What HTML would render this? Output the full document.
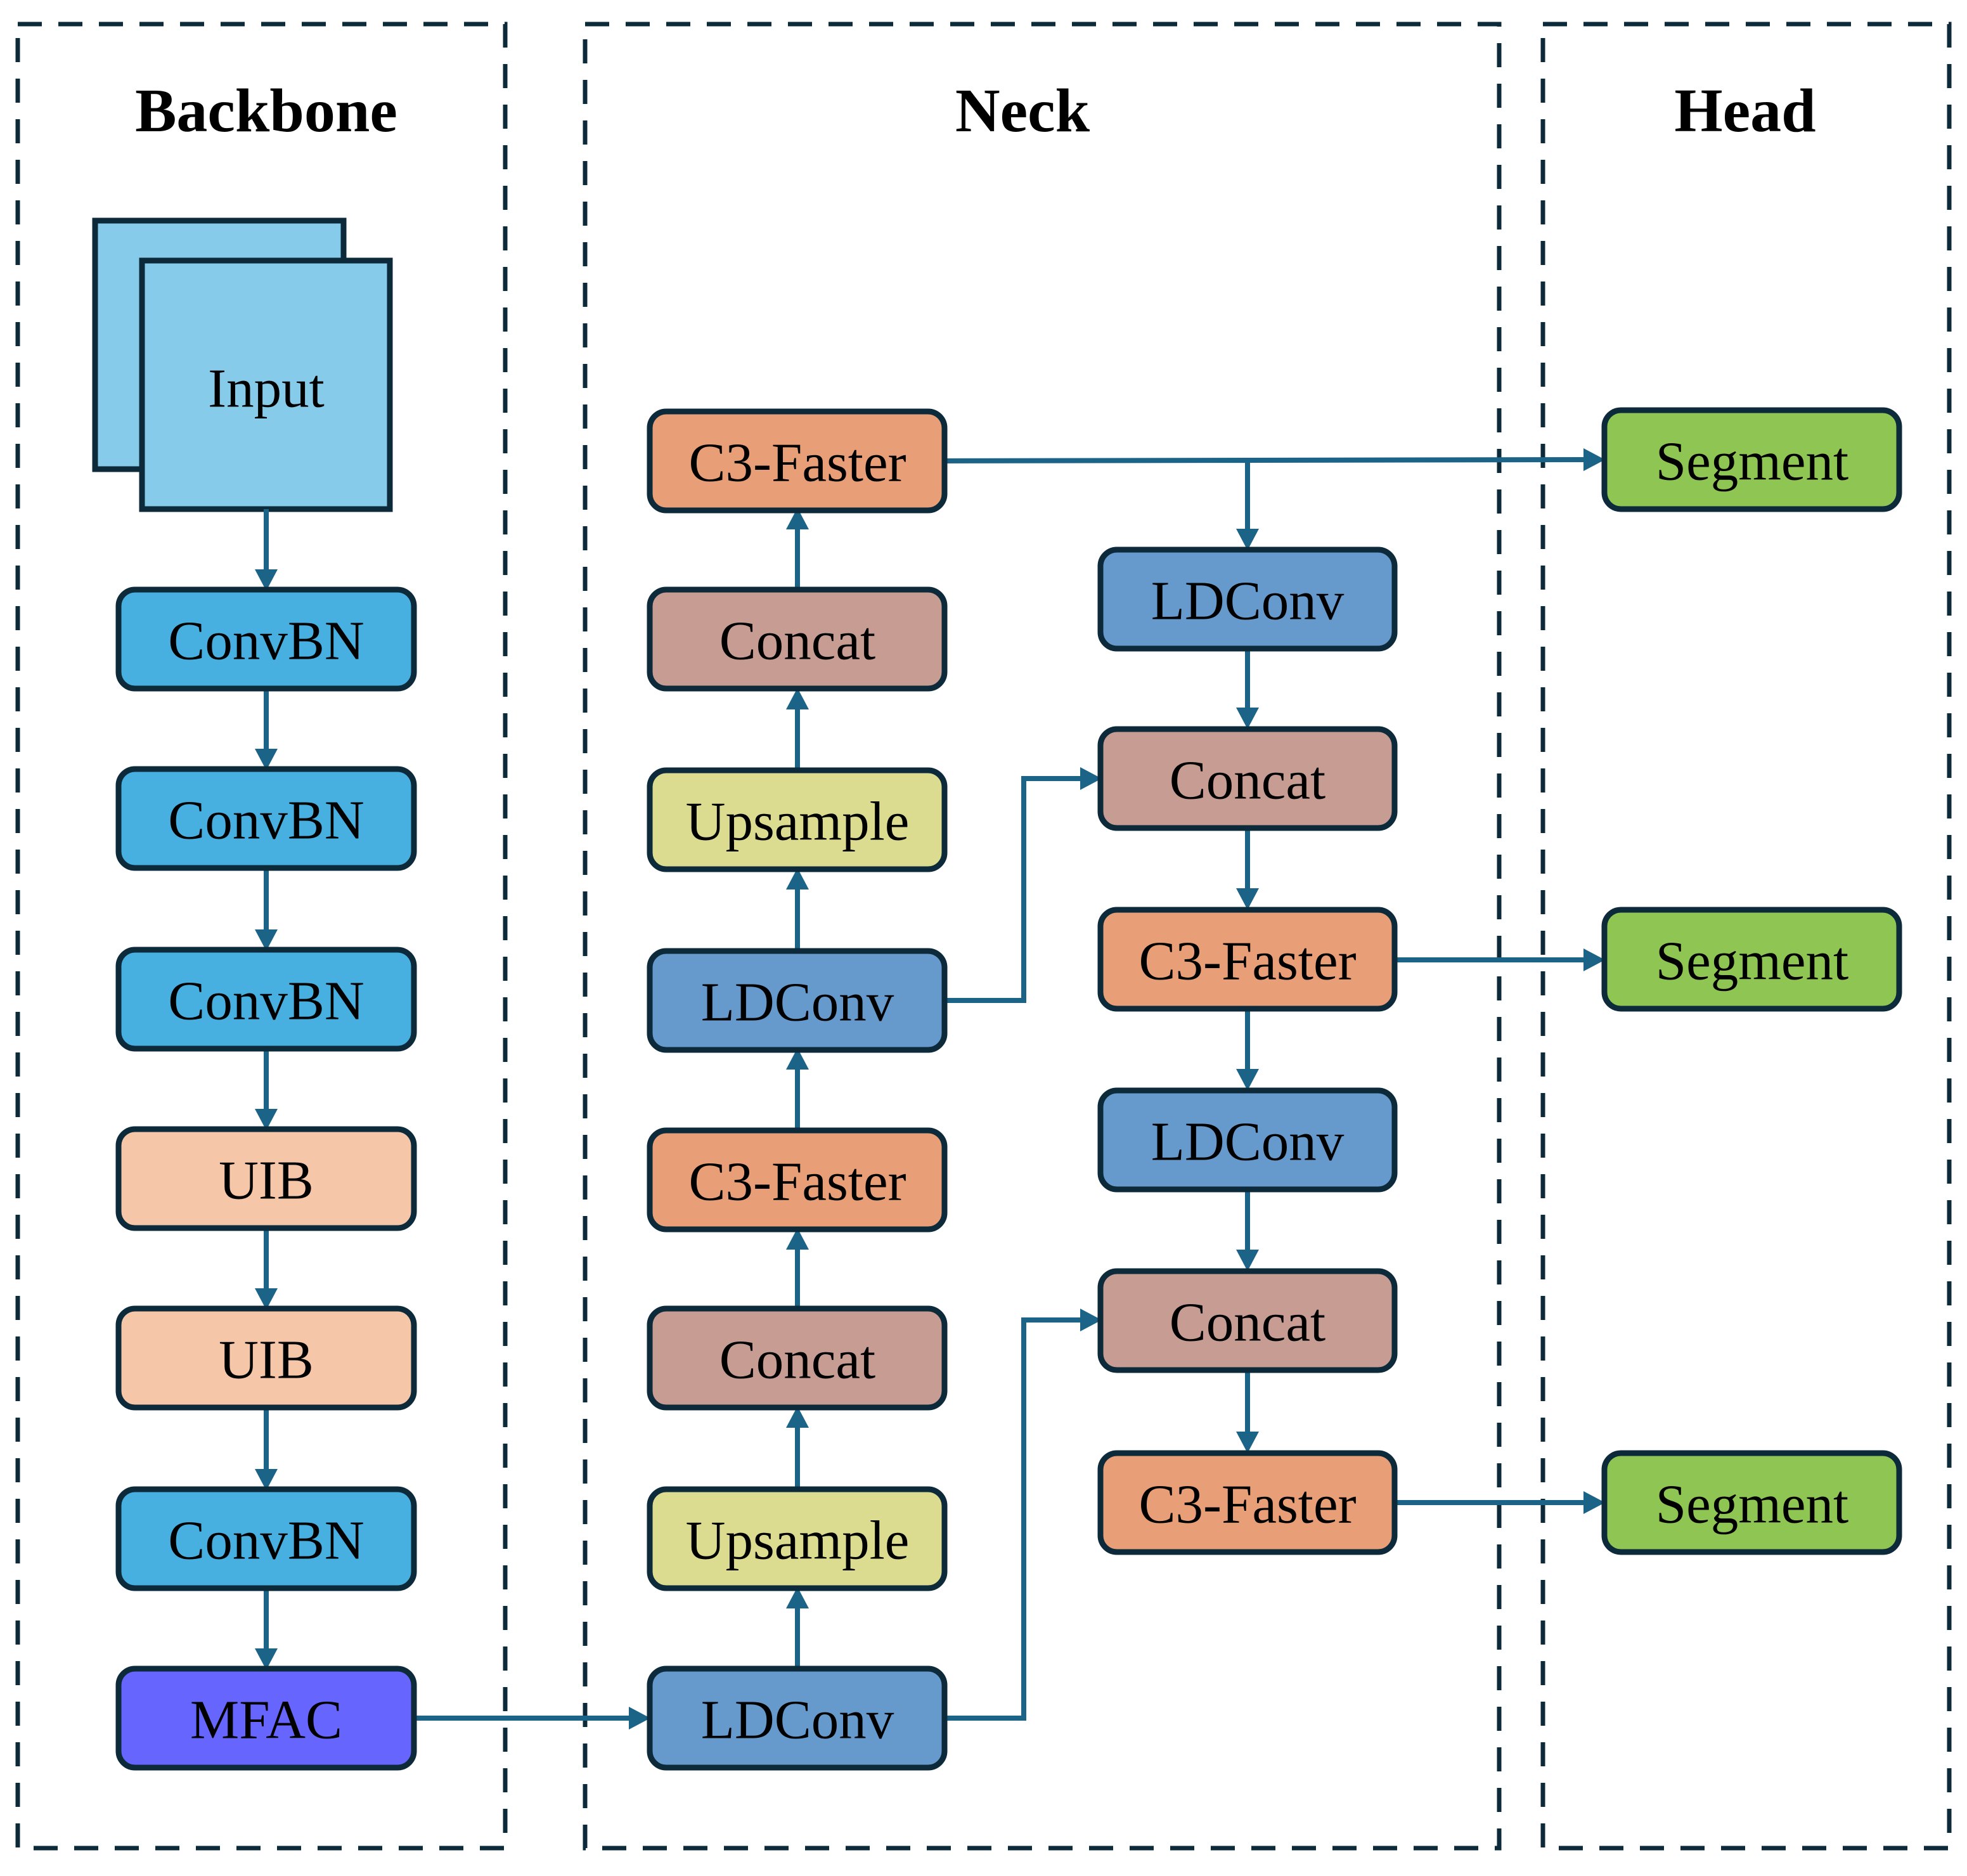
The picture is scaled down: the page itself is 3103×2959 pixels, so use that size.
<!DOCTYPE html>
<html><head><meta charset="utf-8"><style>html,body{margin:0;padding:0;background:#fff}svg{display:block}</style></head>
<body>
<svg width="3103" height="2959" viewBox="0 0 3103 2959" xmlns="http://www.w3.org/2000/svg">
<style>
.dash{fill:none;stroke:#0d2a3a;stroke-width:7;stroke-dasharray:38 26}
.b{stroke:#0d2a3a;stroke-width:9}
.t{font-family:"Liberation Serif",serif;font-size:87px;text-anchor:middle;dominant-baseline:central;fill:#000}
.h{font-family:"Liberation Serif",serif;font-size:98px;font-weight:bold;text-anchor:middle;fill:#000}
.l{fill:none;stroke:#1b6488;stroke-width:8}
.ah{fill:#1b6488}
</style>
<rect class="dash" x="28" y="38" width="769" height="2877"/>
<rect class="dash" x="923" y="38" width="1442" height="2877"/>
<rect class="dash" x="2434" y="38" width="641" height="2877"/>
<text class="h" x="420" y="207">Backbone</text>
<text class="h" x="1613" y="207">Neck</text>
<text class="h" x="2753" y="207">Head</text>

<rect x="150" y="348" width="392" height="392" fill="#87cbeb" class="b"/>
<rect x="224" y="411" width="391" height="392" fill="#87cbeb" class="b"/>
<text class="t" x="420" y="612">Input</text>

<g>
<path class="l" d="M420 803V902M420 1086V1185M420 1369V1470M420 1654V1753M420 1937V2036M420 2220V2321M420 2505V2604"/>
<path class="ah" d="M402 898h36l-18 34zM402 1181h36l-18 34zM402 1466h36l-18 34zM402 1749h36l-18 34zM402 2032h36l-18 34zM402 2317h36l-18 34zM402 2600h36l-18 34z"/>
<path class="l" d="M655 2710H996"/>
<path class="ah" d="M992 2692v36l34-18z"/>
<path class="l" d="M1258 2632V2533M1258 2349V2248M1258 2064V1967M1258 1783V1683M1258 1500V1399M1258 1215V1115M1258 930V831"/>
<path class="ah" d="M1240 2537h36l-18-34zM1240 2252h36l-18-34zM1240 1971h36l-18-34zM1240 1687h36l-18-34zM1240 1403h36l-18-34zM1240 1119h36l-18-34zM1240 835h36l-18-34z"/>
<path class="l" d="M1490 2710H1615V2082H1708"/>
<path class="ah" d="M1704 2064v36l34-18z"/>
<path class="l" d="M1490 1578H1615V1228H1708"/>
<path class="ah" d="M1704 1210v36l34-18z"/>
<path class="l" d="M1490 727L2502 725M1968 727V838"/>
<path class="ah" d="M2498 707v36l34-18zM1950 834h36l-18 34z"/>
<path class="l" d="M1968 1023V1120M1968 1306V1405M1968 1591V1690M1968 1876V1975M1968 2161V2262"/>
<path class="ah" d="M1950 1116h36l-18 34zM1950 1401h36l-18 34zM1950 1686h36l-18 34zM1950 1971h36l-18 34zM1950 2258h36l-18 34z"/>
<path class="l" d="M2200 1514H2502M2200 2370H2502"/>
<path class="ah" d="M2498 1496v36l34-18zM2498 2352v36l34-18z"/>
</g>

<g>
<rect x="187" y="930" width="466" height="156" rx="26" fill="#47b0e0" class="b"/><text class="t" x="420" y="1010">ConvBN</text>
<rect x="187" y="1213" width="466" height="156" rx="26" fill="#47b0e0" class="b"/><text class="t" x="420" y="1293">ConvBN</text>
<rect x="187" y="1498" width="466" height="156" rx="26" fill="#47b0e0" class="b"/><text class="t" x="420" y="1578">ConvBN</text>
<rect x="187" y="1781" width="466" height="156" rx="26" fill="#f6c6a8" class="b"/><text class="t" x="420" y="1861">UIB</text>
<rect x="187" y="2064" width="466" height="156" rx="26" fill="#f6c6a8" class="b"/><text class="t" x="420" y="2144">UIB</text>
<rect x="187" y="2349" width="466" height="156" rx="26" fill="#47b0e0" class="b"/><text class="t" x="420" y="2429">ConvBN</text>
<rect x="187" y="2632" width="466" height="156" rx="26" fill="#6666ff" class="b"/><text class="t" x="420" y="2712">MFAC</text>

<rect x="1025" y="649" width="465" height="156" rx="26" fill="#e89e76" class="b"/><text class="t" x="1258" y="729">C3-Faster</text>
<rect x="1025" y="930" width="465" height="156" rx="26" fill="#c69c93" class="b"/><text class="t" x="1258" y="1010">Concat</text>
<rect x="1025" y="1215" width="465" height="156" rx="26" fill="#dcdc90" class="b"/><text class="t" x="1258" y="1295">Upsample</text>
<rect x="1025" y="1500" width="465" height="156" rx="26" fill="#6699cc" class="b"/><text class="t" x="1258" y="1580">LDConv</text>
<rect x="1025" y="1783" width="465" height="156" rx="26" fill="#e89e76" class="b"/><text class="t" x="1258" y="1863">C3-Faster</text>
<rect x="1025" y="2064" width="465" height="156" rx="26" fill="#c69c93" class="b"/><text class="t" x="1258" y="2144">Concat</text>
<rect x="1025" y="2349" width="465" height="156" rx="26" fill="#dcdc90" class="b"/><text class="t" x="1258" y="2429">Upsample</text>
<rect x="1025" y="2632" width="465" height="156" rx="26" fill="#6699cc" class="b"/><text class="t" x="1258" y="2712">LDConv</text>

<rect x="1736" y="867" width="464" height="156" rx="26" fill="#6699cc" class="b"/><text class="t" x="1968" y="947">LDConv</text>
<rect x="1736" y="1150" width="464" height="156" rx="26" fill="#c69c93" class="b"/><text class="t" x="1968" y="1230">Concat</text>
<rect x="1736" y="1435" width="464" height="156" rx="26" fill="#e89e76" class="b"/><text class="t" x="1968" y="1515">C3-Faster</text>
<rect x="1736" y="1720" width="464" height="156" rx="26" fill="#6699cc" class="b"/><text class="t" x="1968" y="1800">LDConv</text>
<rect x="1736" y="2005" width="464" height="156" rx="26" fill="#c69c93" class="b"/><text class="t" x="1968" y="2085">Concat</text>
<rect x="1736" y="2292" width="464" height="156" rx="26" fill="#e89e76" class="b"/><text class="t" x="1968" y="2372">C3-Faster</text>

<rect x="2531" y="647" width="465" height="156" rx="26" fill="#8fc653" class="b"/><text class="t" x="2764" y="727">Segment</text>
<rect x="2531" y="1435" width="465" height="156" rx="26" fill="#8fc653" class="b"/><text class="t" x="2764" y="1515">Segment</text>
<rect x="2531" y="2292" width="465" height="156" rx="26" fill="#8fc653" class="b"/><text class="t" x="2764" y="2372">Segment</text>
</g>
</svg>
</body></html>
